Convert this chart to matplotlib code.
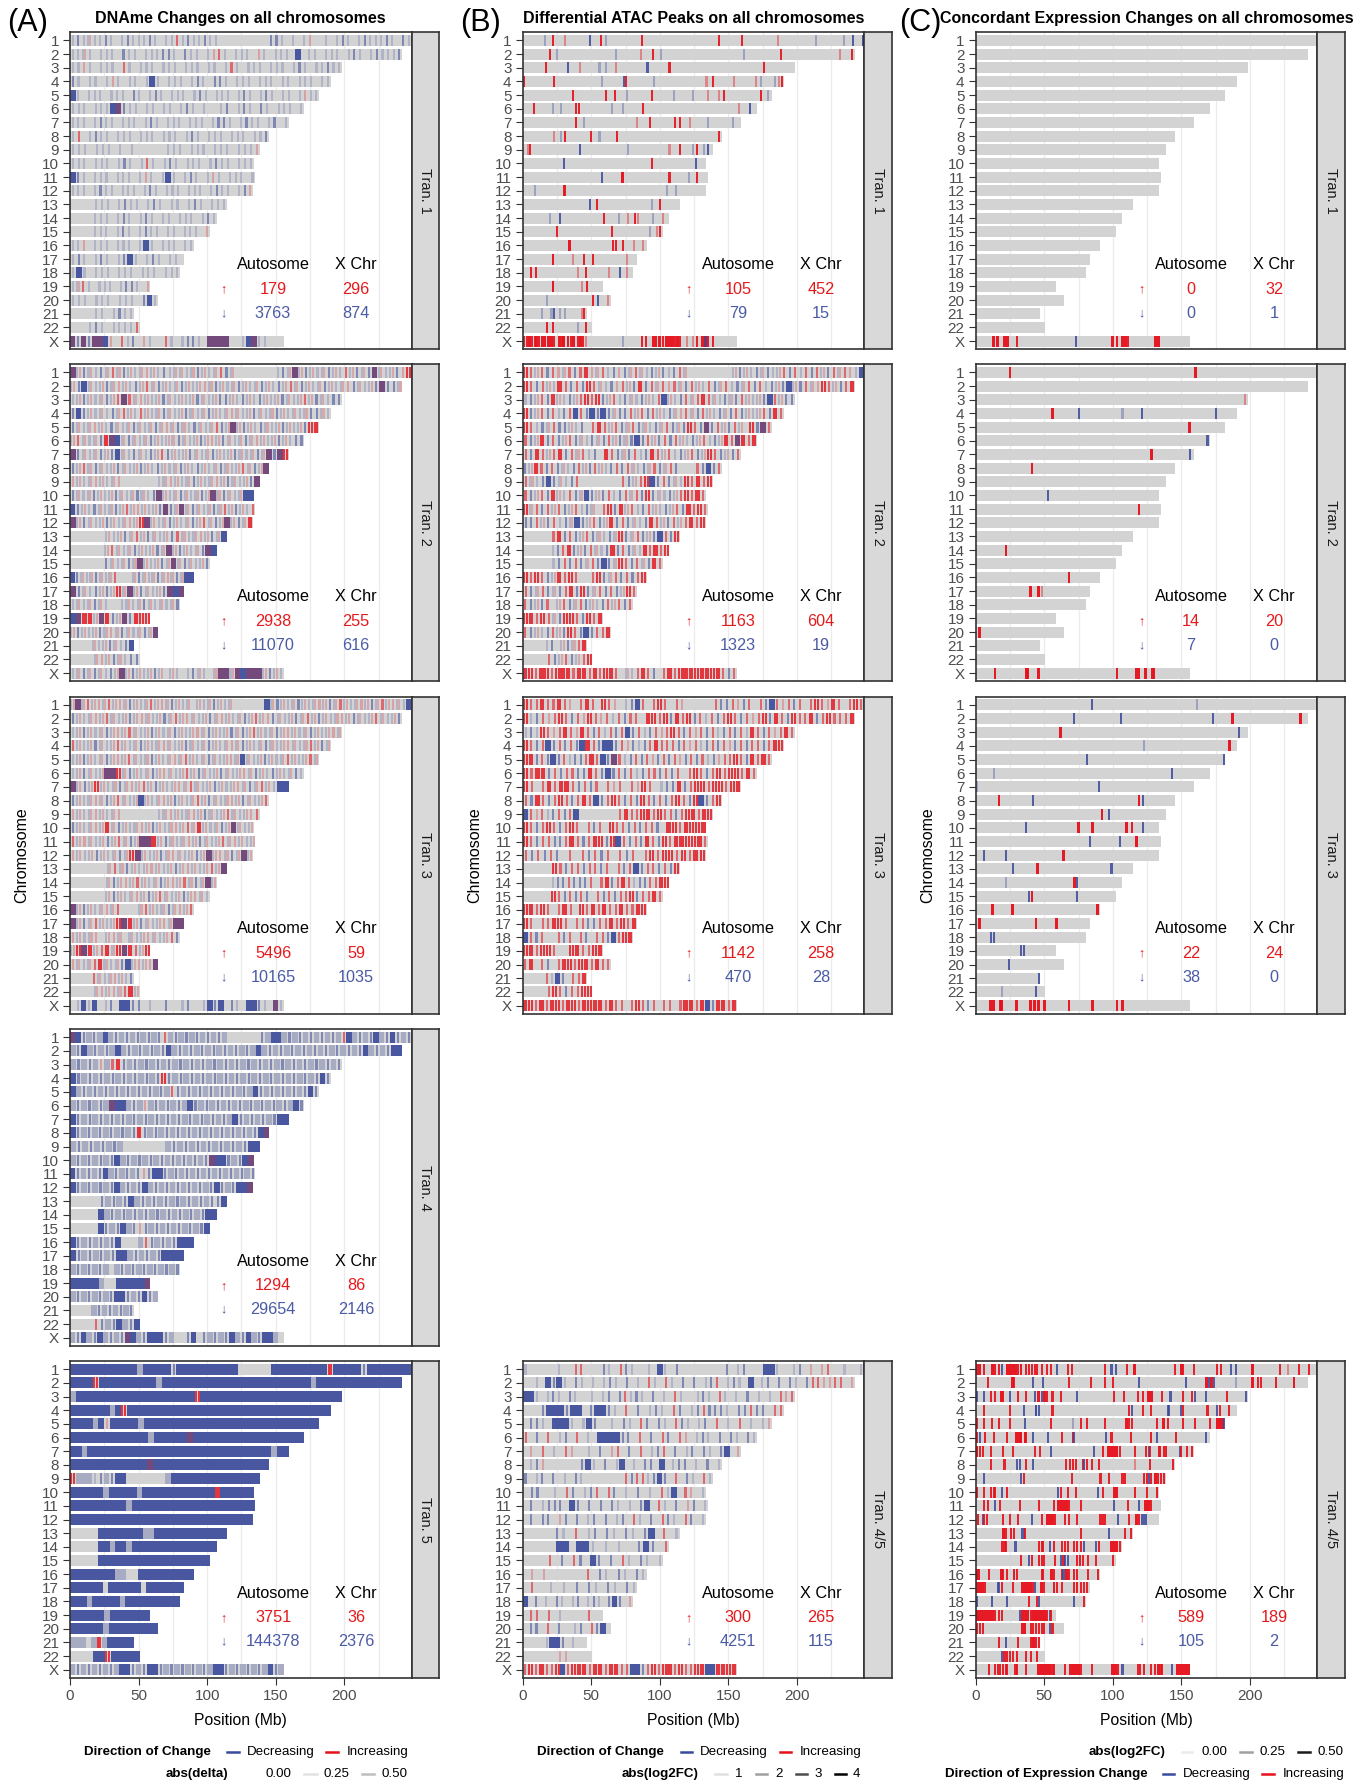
import matplotlib
matplotlib.use("Agg")
import matplotlib.pyplot as plt
from matplotlib.lines import Line2D
from matplotlib.colors import to_rgba

plt.rcParams["font.family"] = ["Liberation Sans", "DejaVu Sans"]

W, H = 1367, 1785

chroms = [str(i) for i in range(1, 23)] + ["X"]
chrom_len = [248.9, 242.2, 198.3, 190.2, 181.5, 170.8, 159.3, 145.1, 138.4, 133.8,
             135.1, 133.3, 114.4, 107.0, 102.0, 90.3, 83.3, 80.4, 58.6, 64.4,
             46.7, 50.8, 156.0]

# tracks: either a string of codes read bin by bin along the chromosome,
# or a list of "position+code" marks (Mb) for the sparse panels
dname_t1 = [
    "lblxllbl.lblllbl.llrlbllbll.........bbl.l.lp..l.lbl.lblllbl.bl",
    "llxl.lll.bll.lllbbl.bll.lprl.lll.pl.lll.B.ll.lll.lbl.lblllb",
    "llpl.lll.rl.lll.lll.lll.ll.lrl.lll.lll.lbl.llbll",
    "bl.ll.lpl.ll.lBl.lll.lbl.bbl.lll.lll.ll.lll.ll",
    "Bl.lll.lll.bl.lbl.lll.lbl.lll.lbl.lbl.ll.lpll",
    "lll.lllBmbll.ll.ll.lbl.l..lb.lbl.bl.lll.l",
    "lll.lbll.lll.lbl.lll.lll.lbbl.lbll.lb.l",
    "lr.lbll.lll.lll.lll.lbl.lll.lll.llb",
    "lll.lll.l.l.....lll.lll.lll.lllp",
    "lll.lll.lbl.lrl.lbl.lll.lbll.lll",
    "Bbl.lll.lll.lpl.lBl.lbl.lpl.lll.l",
    "lll.lbll.lll.lbl.lll.lll.lbll.lbp",
    "....lll.lbll.lbl.ll.lbl.lll",
    "....lll.lbl.lbl.ll.lll.lbl",
    "....lll.lbl.lbll.ll.lll.p",
    "llp.lll.lll.lBl.lll.ll",
    "lbl.lbl.lbBl.lbl.ll.",
    "lBl.lll.lll.lll.lll",
    "lxrl.lll.lbbl.p",
    "lll.lll.lll.bBl",
    "....ll.lbll",
    "...lbl.llllr",
    "mbmbmmBp.rlb.pl..rl.lbbl.mmmm..lBmll...",
]
dname_t2 = [
    "mxbxlbxrxbxlxpxlblxxlxbxlxrbx.......lbxmxbxlxbxlrxbxbmxlxbpR",
    "xbBxlxbxpxlbxrxbxlxbxlxpxbxlxbxlxbxlbxrxbxlxbxlxpbxlxbmbbx",
    "lxbxlxbxrmrxpxlxbxlxlxbxlxbbxlbxlbxlxbxlxrxbxlbb",
    "bBbxlxlbxrxlrxlxbxlxbxlxbxlxpxlxbxlxbxlxlxbbxl",
    "bxlxpxlbxlxbxlxbxpxbxlbxlxrbxmxbxlbxlxbxlxbRR",
    "xrxlxbRmBxbxlxbxlxxbxlxbxpxbxlxbxpxlxbxlbb",
    "mbxlxbxbBxlbxlbxrbxlxbxlxbxlxbxlxbxmbmR",
    "bxrxbxlxbxlxbxlbxlxbxlbxlxbxlxrxbxm",
    "pxlxpxlxp......lxpxlxbxlxpxbxlxbm",
    "bxlxbxlxbxlxbxlbmxlxbxlxbxmxbxlxBB",
    "Bbxlbxlxbxrxpxlxbmbxmxbxlxbxrxbxlr",
    "mxbxlxbxlxpxRmxlxbxlxbxrxbxmxbxR",
    "......xlxbxrxbxlxbrxlxpxbxB",
    "......xrxlxbxlxbxmxbxlxbmB",
    "......bxlxbxmxlxbxmxbxlxb",
    "Bbxlxbxlxr...xbxlxbxpxbxBB",
    "mbxlbxbxRxmxbxlxbmBm",
    "lxlxbxl..lxlxbxlxlxb",
    "BmRRxmRbxmbRRR",
    "xbxlxbxpxbxlxbxm",
    "....xlxbxlbB",
    "....xpxbxlbb",
    "lxbxbxlbxmxbxlxbx.xl.lbxl.xmmxmBmmmxbxl",
]
dname_t3 = [
    "xmxrxpxrxpxbxlxrxpxbxlx.xlxbxlx......BxbxlxbxlxpxbxrxlxpxbxrxpxlB",
    "bxlxpxrxlxbxpxlxbxrxpxlxbxpxlxbxrxpbxlxbxrxbxlxpxbxlxrxlxb",
    "lxbxlxbxpxrxlxbxlxbxlxpxbxlxbxbxrxlxbxpxlxbxlxpx",
    "rxlxbxlxrxlxbxlxpxlxbxlxbxlxpxbxlxbxlxpxlxrxbx",
    "lxbxlxbxpxrxlxbxlxpxrxlxbxlxpxBxlxbxlxrxlxrx",
    "lxbxlxmmRxbxlxbxpxlxrxbxlxbxlxpxbxlbxlxbl",
    "mxbxRxlxbxpxrxbxlxpxrxlxbxlxpxbxrxlBB",
    "bxlxpxbxrxlxBxlxpxbxlxrxbxlxpxbxlxr",
    "pxlxpxlxp......lxpxlxpxbxlxrxlxpr",
    "bxlxpxRxbxlxpxbxlxpxrxRxlxbxmxlx",
    "rxpxlxbxrxbxmmRxbxlxpxbxlxrxpxlx",
    "pxlxbxlxbxRmxlxbxpxlxbxmxpxbxmx",
    "......xrxbxlxpxlxbxpxlxrxm",
    "......xbxpxrxlxbxpxrxbxmx",
    "......xbxlxpxbxrxlxbxpxl",
    "mxbxlxpxr...xrxlxbxpxr",
    "mxbxrxlxRmRxbxlxpxmm",
    "pxlxp.xpx.xlxpxlxrb",
    "xRmRxrRxRmRrxR",
    "pxlxrRxlxbBxpxpm",
    "....rxlxpxlb",
    "....xpxpxrRx",
    ".lBlB.lb.BBbb.l..b..lb..lBbB.bl.BBbl.ml",
]
dname_t4 = [
    "mBbLbLBLbLbLbLbLbrLbLbLbLbLbL......bLBBLbLbLbLbLbLrBLbLbBLbBbLb",
    "LbBLbLbLBLbLbLbLbBLbLbLbLbLbLbLbLBLbLbLbLbLbLbLbLbLbBLbLbBB",
    "LbLbLpLrRbLbLbLbLbLbLbLbLbLbLbLbLbLbLbLbLbLbLbLb",
    "BbLbLbLbLbLbLbLbRbLbLbLbLbLbLbLbLbLbLbLbLbLbBb",
    "BLbLbLbLbLbLbLbLbLrbLbLbLbLbLbLbLBbLbLbLbLbBb",
    "LbLbLbLmBBLbLpLbLbLbLBbLbLbLbLbLbLbLbLbLBb",
    "BbLbLbLbLbLbLbLbLbLbLbLbLbLbLBbLbLbLbBB",
    "BbLbLbLbLbLbRbLbLbLbLbLbLbLbLbLbLbBm",
    "LbLbLbLbL.......LbLbLbLbLbLbLbBB",
    "LbLbLbLbBLbLbLbLbLbLbLbLbmBBbLbBm",
    "BbLbLbBLbLbLbpbBBbLbLbLbLbLbLbLbLb",
    "BbLbLbLbBLbLbBLbLbLbLbLbLbBbLbBBm",
    ".....bLbLbBLbLbLbLbLbLbLbbB",
    ".....BLbLbLbLbLbLbLbLbLbBB",
    ".....BbLbBLbpbLbLbLbLbLbB",
    "BbLbLbLbB...LrbLbLbBBB",
    "BbLbLbLbBBLbLbLbBBBB",
    "LbLbLbL.LbLbLbLbLbLb",
    "BBBBBL..BBBBBm",
    "LbLbLbLbBBbLbBbL",
    "....LbLbLbLb",
    "....rbLbBLbB",
    "LbBLbBLbLbmBLbBBBbL..bB.bLbLbBLbBLbBBL.",
]
dname_t5 = [
    "BBBBBBBBBBBBLBBBBBbBBBBBBBBBBB......BBBBBBBBBBRBBBBBbBBBBBBBB",
    "BBBBRBBBBBBBBBBLBBBBBBBBBBBBBBBBBBBBBBBBBBLBBBBBBBBBBBBBBB",
    "LBBBBBBBBBBBBBBBBBBBBBRBBBBBBBBBBBBBBBBBBBBBBBBB",
    "BBBBBBBLBRBBBBBBBBBBBBBBBBBBBBBBBBBBBBBBBBBBBB",
    "BBBBLBpBBBBBLBBBBBBBBBBBBBBBBBBBBBBBBBBBBBBB",
    "BBBBBBBBBBBBBBLBBBBBBmBBBBBBBBBBBBBBBBBBBB",
    "BBLBBBBBBBBBBBBBBBBBBBBBBBBBBBBBBBBLBB",
    "BBBBBBBBBBBBBBmBBBBBBBBBBBBBBBBBBBBB",
    "RLLLlbLbBB.......LBBBBBBBBBBBBBBBB",
    "BBBBBBLBBBBBLBBBBBBBBBBBBBRBBBBBB",
    "BBBBBBBBBBLBBBBBBBBBBBBBBBBBBBBBB",
    "BBBBBBBBBBBBBBBBBBBBBBBBBBBBBBBBB",
    ".....BBBBBBBBLLBBBBBBBBBBBBB",
    ".....BBLBBLBBBBBBBBBBBBBBB",
    ".....BBBBBBBBBBBBBBBBBBBB",
    "BBBBBBBBLL..BBBBBBBBBB",
    "BBBBBB.BBBBBB.BBBBBBB",
    "BBBLBBBBBLBBBBBBBBBB",
    "BBBBBBLBBBBBBB",
    "BBBBBBLBBBBBBBBB",
    "LLL.LRLBBBBB",
    "....BBRBBBBB",
    "LbLbLbLbLBBbLbBBbLbLbLbLbLBBbLbLbLbLBbL",
]

atac_t1 = [
    "16l 22r 31p 49b 57r 61l 87r 143r 160r 186p 214l 234l 241b 248B",
    "20r 25l 68l 86p 95r 101l 161l 188r 231p 240r",
    "17r 33b 42p 56l 61l 68p 91b 107r 176r",
    "1r 23r 58l 74b 75r 96l 134p 139r 154p 170p 174l 184l 187p 189r",
    "37r 61r 67r 76l 94r 110l 124l 135p 143p 147r 174r 179l",
    "8r 22l 28l 39r 41r 65l 73l 88r 158p 166b",
    "39r 45l 83p 93r 111r 115r 122p 135l 153l",
    "23p 28l 31r 50r 56l 69r 143r",
    "4p 5r 42b 77l 107p 115r 124l 127r 132l 135b",
    "30b 94r 126b",
    "58b 73R 107r 121l 127r",
    "9l 30r 31r 105l 112l",
    "49b 54r 94l 100r",
    "20l 27b 59r 70l 77p 82r 84p 95l 102p",
    "25r 65r 93l 98p 100r",
    "34R 66r 68r 73r 81p 88p",
    "22R 37p 45r 51r 76p",
    "6r 10r 40p 46r 63p 71b 76p",
    "22R 43p 47r",
    "18l 51r 55b 62p",
    "14l 21l 23b 27l 31l 43p 45r",
    "18r 22r 40l 46r",
    "1r 3r 5R 7r 9r 10R 12r 14R 16R 19R 21R 23r 27R 29r 30R 33R 35r 37R 40r 42R "
    "44r 46p 73l 87r 90r 95R 97R 100R 102r 105R 107R 109R 111r 113R 115r 120p "
    "124p 127r 131R 133m 135R 139r",
]
atac_t2 = [
    "RrxrbrpxrbrRpxrlbpbxrxlbxblbrx........xbxlbxblxrbrlrbrxbrxrplB",
    "RrbrxlRrbrbRrxlbprxbRbrxrprxbrxlrbxrlbxrbrlbxbBxbrxpRrxbrR",
    "lbxrbRxlbxrRrRbxrlbxlbxlrBxlbrxrRrxlbxbrxlxbBrxbb",
    "RbxrbrlbrBrbBbBbxbbrxrbrxlbxprxbrxlbxbrbxlxrbRr",
    "Rrlbxrbbxlb.rRrxrbxrbxlbxrbxbRrbmbrxbrx.Rbmr",
    "rbxRbrbxrbxlbxbrxbxbBbrxbrbrxlbxrlbxRrmRrR",
    "rbRrxrRbrxrlb.RrbxbrlbRrxrlbxrbxRrbxbr",
    "bxRrbrbxlbrxbrxlbrbrxlbxrbxrb...rbBbr",
    "rxlbBbxlbr.......rbxrRBbrbxlRrRrR",
    "rbxrbRxlrbxBbxbrlbrxrbRbxlbxrRrRr",
    "Rxrbrxrbxrlbx.rRbRxrlbrxlbxrbRrRr",
    "bbrxbrlbxBbxrbxRbrbxlbRrxbrxrRrR",
    ".....rRbrbxrbxlbxRbxrbxbBrbR",
    ".....lbrRbxbrxlbRbrbxlRrRrR",
    ".....lbrbrbxrbBbxRrbrxbRr",
    "RrRrbxRrRr..rRbxrbrbrR",
    "rbxrbxbrRbRbxrbrbxRr",
    "rbxbr.xrbxrbxlbrxrbr",
    "RRrRrxbRRrbRrR",
    "rbxlbrxbRrbBbrrR",
    "....lb.xbxrR",
    "....rbxrbxrR",
    "RRrRRrRRRrRRrRrRRr.xlrRrb.rRrRRRRRRRRrbr",
]
atac_t3 = [
    "RrrRrrRrp.rRr.Rrp.lbBr.rRr.rp.....rbbrpbr.rbBrprbr.rRrpRr.rRr",
    "RlbrprRrbrpRrprlrbrr.RRrRbRrRbrlrbrRrbrprRbRrbRrrRbrRrrrR",
    "lblRrprRrpRrbrlrbrBbrlbrprRrbrprbrlbrbrlRrbrprRr",
    "RrbrBbrbrbBRrbBBbrpblbrRrrrbrprlbrbrpbrbrrbrRR",
    "RRbrbBbrlbbrRrBbmrlbrbrpbrbrpbrbrlbprrRrbRrRr",
    "RrRRbrbrrbbRrbBbrbrlbrrbrbr.rRrbrRrRRrRr",
    "Rr.rRrRRrbrbr.rpr.rpRr.lbbRbrRRrRRrRR",
    "rbRrbrRrbrRrBbrRrbrbRrbrbrRrbRBbrR",
    "BrprlbrbrB.......rRrrRRrRrrbrRRrRR",
    "RrbrRrbrRr.rbr.Rrrbrbrrb.RRrRRRR",
    "RrbrrbbrRrbrRRbRBrbrbRrbRrRRRRRr",
    "rbrbrb.r.rbrbr.rbr.rRrRRrRrRR",
    ".....Rrbrrbrrbr.rbrBbrrbrbR",
    ".....lbbrbbbr.rRbrRrlbbrrRR",
    ".....Rrbrbrb.rbrbrrRbrrRr",
    "RRrRr.rRr.RrRrRrrRrrRR",
    "Rr.rrRRr.rrbbrrRrRrR",
    "Brbr..rbr.rb.rrbBrRR",
    "RRrRRr..RRrrRR",
    "rR.rb.rRRrRRrRrr",
    "....rlBb.rrR",
    "....rRrbrrRR",
    "RRrRrRRrRRrRRRRrRrr.rRrbr.rr.rRRrRBbRRrR",
]
atac_t45 = [
    "l.....l..rr...bl.rbl..l.Bl.b........b.lb...BBl..lb.p.pr..l..l",
    "..l.BbBl.bl.l.lbl.b.l.rl.rl.b.b.lbr.lbl.B.lb.b.bl.brrpprr.p",
    "BBl.lbl.bl..l.lb.brlbl.b.l.rl..lbl.rl.l.b.l.l.rpr",
    "...bBBBbBB.bBBbl.r.b.lbl.rb.lbrbbbl.bbrbb.rr",
    ".bbl.BBBl.lBb..l.bl.rb.bl.rbl.lb.r.l.r.l.lp",
    "r.b.r.lb.r.l.BBBBbb.r.b.rb.rp.lbl.b.bl.bl",
    ".p.r.l.rp..l.b.pr.b.r.lbr.b.lb.bl.bB.p",
    ".lbp......bBl.b.lB.l.bb.B.lbb.l.b.l",
    "b.lb.b.l.bl.......rbrrlbBb.r.bl.rl",
    ".bb..l.rb.lbr.rb.l.b.l.rlB.rp.l",
    ".b.lbbb.Bb.b.b.bl.l.bB.rl.b.pb.l",
    ".b.bb.pb.b.lb.b.lb.rl.b.rbl.rb.l",
    ".....bl.r.lb.bl.bl.bB.r.l",
    ".....BB.BBl.l.l..bBb.r",
    "....r.b.rb.Bb.b.rl.bl.l",
    ".p.p......r.bl.bl.bl",
    ".r..l.l.b.bl.bl.bl",
    "B.b.l.bl.lb.lbl.bBb.p",
    ".rr.r.l....r..",
    ".bb.r.b..lb.rbB.",
    "....lBBb.l..",
    "......pp....",
    "rRrRrrRBrRRRrRRrRRrrBBbrRrRRrRrrRRBBRRRR",
]

expr_t1 = [""] * 22 + ["13R 16R 21R 23R 30r 73b 100R 103R 107R 109R 111r 131R 133R"]
expr_t2 = [
    "25R 160R", "", "196p", "56R 75b 107l 121b 175b", "156R", "169b", "128R 156b",
    "41R", "", "53b", "119R", "", "", "22R", "", "68R", "40R 46R 48p", "", "",
    "3R", "", "", "14R 37R 38R 46R 103R 117R 119R 124R 129R 130R",
]
expr_t3 = [
    "85b 161l", "72b 106b 173b 187R 237R", "62R 192b", "123l 185R", "81b 181b",
    "13l 143b", "0l 90b", "17R 42b 119R 122b", "92R 97b",
    "37b 75R 85R 110R 114R 122b", "83b 105b 117R", "6b 22b 64R", "27b 45R 99b",
    "22l 72R 74b", "39b 41R 74b", "12R 27R 89R", "3R 44R 59R", "11b 13b", "33b 35b",
    "24b", "46b", "19l 44b",
    "11R 13R 18R 19R 30R 40R 43R 46R 50R 68R 85R 103R 107R",
]
expr_t45 = [
    "1r 3R 6r 12R 14r 17r 19b 23R 25R 27R 29R 31r 33R 37r 39r 41r 43r 45r 48r 52r 55r "
    "59b 67r 70r 94r 99b 102b 110r 116R 145r 150R 151r 159r 176r 179r 186b 190b 202R "
    "222r 228p 236r 243r",
    "9r 27R 28r 42b 49b 68r 84r 94r 100r 119b 153b 168R 170b 172R 174b 190l 202R 206r "
    "208r 219r 232R",
    "1b 6b 11r 14r 19R 20r 25b 31r 37r 43b 46R 48b 50R 52r 56r 62r 74b 101r 108r 118r "
    "122r 126R 128R 136r 142b 151r 158r 160b 168b 183r 197b",
    "6r 25r 35b 44B 46b 56r 112r 114b 122r 128r 140b 141b 150b 151r 169r 176b 178r 185r",
    "1r 6r 12r 17r 25r 36b 55r 71l 77r 81r 94r 110R 112r 114r 132r 137R 140r 151r 160r "
    "171r 176R 178R 180R 181b",
    "1r 3b 7r 13r 23r 30R 32R 33R 36R 37r 42b 53b 63r 71R 72b 95b 99r 113r 128r 132b "
    "146r 168b",
    "1R 3r 5r 11r 20r 27r 43r 47r 55b 86b 93r 97R 99R 101R 103R 105r 116r 124r 126b "
    "127r 134R 137r 139r 149b 150r 154r 158r",
    "11r 21r 30b 32b 37r 42b 66r 69r 71r 73r 78r 79b 81r 85r 90r 116p 127r 144r",
    "6b 33b 35r 70r 91r 97r 107r 109r 123r 125r 126b 128r 131R 133r 135r 137r",
    "0r 6r 11r 13r 14r 19b 23r 60b 62r 67r 73r 89b 93r 101R 103R 116r 125r 132r",
    "6r 9r 14b 18r 32r 46r 57r 60R 62R 64R 66R 68r 77r 101b 111r 119b 124R 126R 128r",
    "2r 5b 6r 8r 20r 25r 31r 41b 48r 52R 54R 56R 58r 65r 68r 74r 91r 93r 94r 104b "
    "112r 117R 119r 121b 123b 124b",
    "20R 22r 26r 28r 34b 35b 36r 77r 97b 109r 113r",
    "19r 21r 22r 29b 46r 48r 49r 54b 57r 63r 65r 67r 72r 74r 77r 79b 88b 90r 99R 101R "
    "103R 105r",
    "33r 39b 41r 46r 48r 50r 58r 62b 64r 65b 67b 74r 76R 78r 82r 88r 100r",
    "0R 2R 10r 19R 20r 23r 28R 30r 48r 49r 55R 57r 63r 64b 66R 68r 72r 74r 82r 89r",
    "1R 3R 5R 7r 16b 17b 19r 27r 34R 36R 38R 40R 42r 43b 48R 50r 57R 59r 63r 72r 74r "
    "77r 79r 81r",
    "1b 12b 23b 39r 45r 46b 72b 79r",
    "0R 2R 4R 6R 8R 10R 12R 14r 17r 19r 32b 34R 36R 38R 40r 42R 44R 46R 48R 50R 52r "
    "54b 55r",
    "1r 3r 5r 34R 36R 40r 42r 44r 46r 48r 50r 54b 56r",
    "17r 22b 31r 40r 42R 44r 46r",
    "19b 21r 23r 25r 27r 30r 37r 40r 45r",
    "10r 14r 16r 18r 20r 22r 23r 29r 30r 37r 46R 48R 50R 52R 54R 56r 57r 65r 69R 71R "
    "73R 75R 77r 85r 100R 102R 104r 107b 118r 120r 123r 128r 131r 133R 135r 136r 143b "
    "147R 149R 151R 153R 155R",
]

# counts: (up autosome, up X, down autosome, down X)
dname_counts = [(179, 296, 3763, 874), (2938, 255, 11070, 616), (5496, 59, 10165, 1035),
                (1294, 86, 29654, 2146), (3751, 36, 144378, 2376)]
atac_counts = [(105, 452, 79, 15), (1163, 604, 1323, 19), (1142, 258, 470, 28), None,
               (300, 265, 4251, 115)]
expr_counts = [(0, 32, 0, 1), (14, 20, 7, 0), (22, 24, 38, 0), None, (589, 189, 105, 2)]

strip_labels = ["Tran. 1", "Tran. 2", "Tran. 3", "Tran. 4", "Tran. 5"]
strip_labels_merged = ["Tran. 1", "Tran. 2", "Tran. 3", None, "Tran. 4/5"]

BLUE = "#3A4A9C"
RED = "#E8101A"
PURPLE = "#5C2868"
RED_TXT = "#E41A1C"
BLUE_TXT = "#4B5BA6"

# code -> (colour, alpha, wide) for the sparse (position) tracks
mark_style = {
    "l": (BLUE, 0.35, False), "b": (BLUE, 0.85, False), "B": (BLUE, 0.95, True),
    "L": (BLUE, 0.35, True), "p": (RED, 0.4, False), "r": (RED, 0.9, False),
    "R": (RED, 0.95, True), "P": (RED, 0.35, True), "m": (PURPLE, 0.9, True),
}
# the dense (binned) tracks are blends of many faint lines, so lighter
bin_alpha = {"l": 0.22, "b": 0.55, "B": 0.9, "L": 0.28, "p": 0.25, "r": 0.55,
             "R": 0.8, "P": 0.3, "m": 0.8}
THIN = 1.5
THICK = 2.0


def track_marks(s, length):
    out = []
    if not s.strip():
        return out
    if any(ch.isdigit() for ch in s):
        for tok in s.split():
            pos, code = float(tok[:-1]), tok[-1]
            col, a, wide = mark_style[code]
            w = THICK if wide else THIN
            x0 = max(pos - w / 2, 0)
            out.append((x0, min(w, length - x0), to_rgba(col, a)))
        return out
    bw = length / len(s)
    for i, code in enumerate(s):
        x0 = i * bw
        if code == ".":
            continue
        if code == "x":
            out.append((x0 + 0.25 * bw - THIN / 2, THIN, to_rgba(BLUE, 0.22)))
            out.append((x0 + 0.7 * bw - THIN / 2, THIN, to_rgba(RED, 0.22)))
            continue
        if code == "R":
            # a run of strong red peaks: drawn as two close lines
            out.append((x0 + 0.25 * bw - THIN / 2, THIN, to_rgba(RED, bin_alpha["R"])))
            out.append((x0 + 0.7 * bw - THIN / 2, THIN, to_rgba(RED, bin_alpha["R"])))
            continue
        col, _, wide = mark_style[code]
        a = bin_alpha[code]
        if wide:
            out.append((x0, bw, to_rgba(col, a)))
        else:
            out.append((x0 + bw / 2 - THIN / 2, THIN, to_rgba(col, a)))
    return out


fig = plt.figure(figsize=(W / 100, H / 100), dpi=100)


def add_ax(left, top, w, h):
    return fig.add_axes([left / W, 1 - (top + h) / H, w / W, h / H])


def fx(px):
    return px / W


def fy(py):
    return 1 - py / H


col_left = [70, 522.7, 975.7]
row_top = [32.3, 364.3, 696.7, 1029, 1361]
PW, PH, SW = 341.5, 317, 27.5
ann_pos = [(112, 148, 208.5), (120.5, 157, 217.5), (120.5, 157, 217.5)]


def draw_panel(ax, tracks, counts, ann, bottom):
    ax.set_xlim(0, 248.96)
    ax.set_ylim(23.6, 0.4)
    for g in range(25, 250, 25):
        ax.axvline(g, color="#EBEBEB", lw=0.9, zorder=0)
    ypos = list(range(1, 24))
    ax.barh(ypos, chrom_len, left=0, height=0.8, color="#D3D3D3", lw=0, zorder=1)
    ys, lefts, widths, cols = [], [], [], []
    for k, s in enumerate(tracks):
        for x0, w, c in track_marks(s, chrom_len[k]):
            ys.append(k + 1)
            lefts.append(x0)
            widths.append(w)
            cols.append(c)
    ax.barh(ys, widths, left=lefts, height=0.8, color=cols, lw=0, zorder=2)
    ax.set_yticks(ypos)
    ax.set_yticklabels(chroms)
    ax.tick_params(axis="y", labelsize=11, labelcolor="#4D4D4D", color="#333333",
                   length=5, width=0.8, pad=3)
    if bottom:
        ax.set_xticks([0, 50, 100, 150, 200])
        ax.tick_params(axis="x", labelsize=11, labelcolor="#4D4D4D", color="#333333",
                       length=5, width=0.8, pad=3)
    else:
        ax.set_xticks([])
    for sp in ax.spines.values():
        sp.set_color("#333333")
        sp.set_linewidth(1.2)
    xa, xauto, xx = ann
    ax.text(xauto, 17.4, "Autosome", ha="center", va="center", fontsize=11.7)
    ax.text(xx, 17.4, "X Chr", ha="center", va="center", fontsize=11.7)
    up_a, up_x, dn_a, dn_x = counts
    ax.text(xa, 19.2, "\u2191", ha="center", va="center", fontsize=9, color=RED_TXT)
    ax.text(xauto, 19.2, str(up_a), ha="center", va="center", fontsize=11.7, color=RED_TXT)
    ax.text(xx, 19.2, str(up_x), ha="center", va="center", fontsize=11.7, color=RED_TXT)
    ax.text(xa, 20.95, "\u2193", ha="center", va="center", fontsize=9, color=BLUE_TXT)
    ax.text(xauto, 20.95, str(dn_a), ha="center", va="center", fontsize=11.7, color=BLUE_TXT)
    ax.text(xx, 20.95, str(dn_x), ha="center", va="center", fontsize=11.7, color=BLUE_TXT)


def draw_strip(left, top, label):
    sax = add_ax(left, top, SW, PH)
    sax.set_facecolor("#D9D9D9")
    sax.set_xticks([])
    sax.set_yticks([])
    for sp in sax.spines.values():
        sp.set_color("#333333")
        sp.set_linewidth(1.2)
    sax.text(0.5, 0.5, label, rotation=270, ha="center", va="center",
             fontsize=10.5, color="#1A1A1A", transform=sax.transAxes)


columns = [
    ([dname_t1, dname_t2, dname_t3, dname_t4, dname_t5], dname_counts, strip_labels),
    ([atac_t1, atac_t2, atac_t3, None, atac_t45], atac_counts, strip_labels_merged),
    ([expr_t1, expr_t2, expr_t3, None, expr_t45], expr_counts, strip_labels_merged),
]

for ci, (tracks_list, counts_list, labels) in enumerate(columns):
    for ri in range(5):
        if tracks_list[ri] is None:
            continue
        ax = add_ax(col_left[ci], row_top[ri], PW, PH)
        draw_panel(ax, tracks_list[ri], counts_list[ri], ann_pos[ci], ri == 4)
        draw_strip(col_left[ci] + PW, row_top[ri], labels[ri])

titles = ["DNAme Changes on all chromosomes", "Differential ATAC Peaks on all chromosomes",
          "Concordant Expression Changes on all chromosomes"]
tags = ["(A)", "(B)", "(C)"]
tag_x = [7, 460, 899]
ylab_x = [21.7, 475, 927.7]
for ci in range(3):
    cx = col_left[ci] + PW / 2
    fig.text(fx(cx), fy(18.3), titles[ci], ha="center", va="center",
             fontsize=11.5, fontweight="bold")
    fig.text(fx(tag_x[ci]), fy(23), tags[ci], ha="left", va="center", fontsize=22)
    fig.text(fx(ylab_x[ci]), fy(855), "Chromosome", rotation=90, ha="center",
             va="center", fontsize=11.5)
    fig.text(fx(cx), fy(1720), "Position (Mb)", ha="center", va="center", fontsize=11.3)


def key_line(x0, x1, y, color):
    fig.add_artist(Line2D([fx(x0), fx(x1)], [fy(y), fy(y)], transform=fig.transFigure,
                          color=color, lw=1.8))


def key_text(x, y, s, bold=False):
    fig.text(fx(x), fy(y), s, ha="left", va="center", fontsize=9.6,
             fontweight="bold" if bold else "normal")


R1, R2 = 1751.7, 1774.3
# column A legend
key_text(83.8, R1, "Direction of Change", True)
key_line(227, 238.6, R1, BLUE)
key_text(247, R1, "Decreasing")
key_line(326, 338, R1, RED)
key_text(346.6, R1, "Increasing")
key_text(166, R2, "abs(delta)", True)
key_text(265.7, R2, "0.00")
key_line(304, 316.6, R2, "#E2E2E2")
key_text(323.5, R2, "0.25")
key_line(362, 374, R2, "#BEBEBE")
key_text(382, R2, "0.50")
# column B legend
key_text(537, R1, "Direction of Change", True)
key_line(680.5, 692, R1, BLUE)
key_text(700, R1, "Decreasing")
key_line(780, 791.4, R1, RED)
key_text(800, R1, "Increasing")
key_text(622, R2, "abs(log2FC)", True)
key_line(715, 727, R2, "#E0E0E0")
key_text(735, R2, "1")
key_line(755.6, 767, R2, "#A0A0A0")
key_text(775, R2, "2")
key_line(796, 806.5, R2, "#4D4D4D")
key_text(814.5, R2, "3")
key_line(835, 846, R2, "#000000")
key_text(853, R2, "4")
# column C legend
key_text(1089, R1, "abs(log2FC)", True)
key_line(1181.7, 1192.3, R1, "#EBEBEB")
key_text(1201, R1, "0.00")
key_line(1240, 1252, R1, "#A0A0A0")
key_text(1259, R1, "0.25")
key_line(1298, 1310, R1, "#1A1A1A")
key_text(1318, R1, "0.50")
key_text(945, R2, "Direction of Expression Change", True)
key_line(1162.7, 1174.3, R2, BLUE)
key_text(1182.7, R2, "Decreasing")
key_line(1262, 1274, R2, RED)
key_text(1282.7, R2, "Increasing")

fig.savefig("out.png", dpi=100)
